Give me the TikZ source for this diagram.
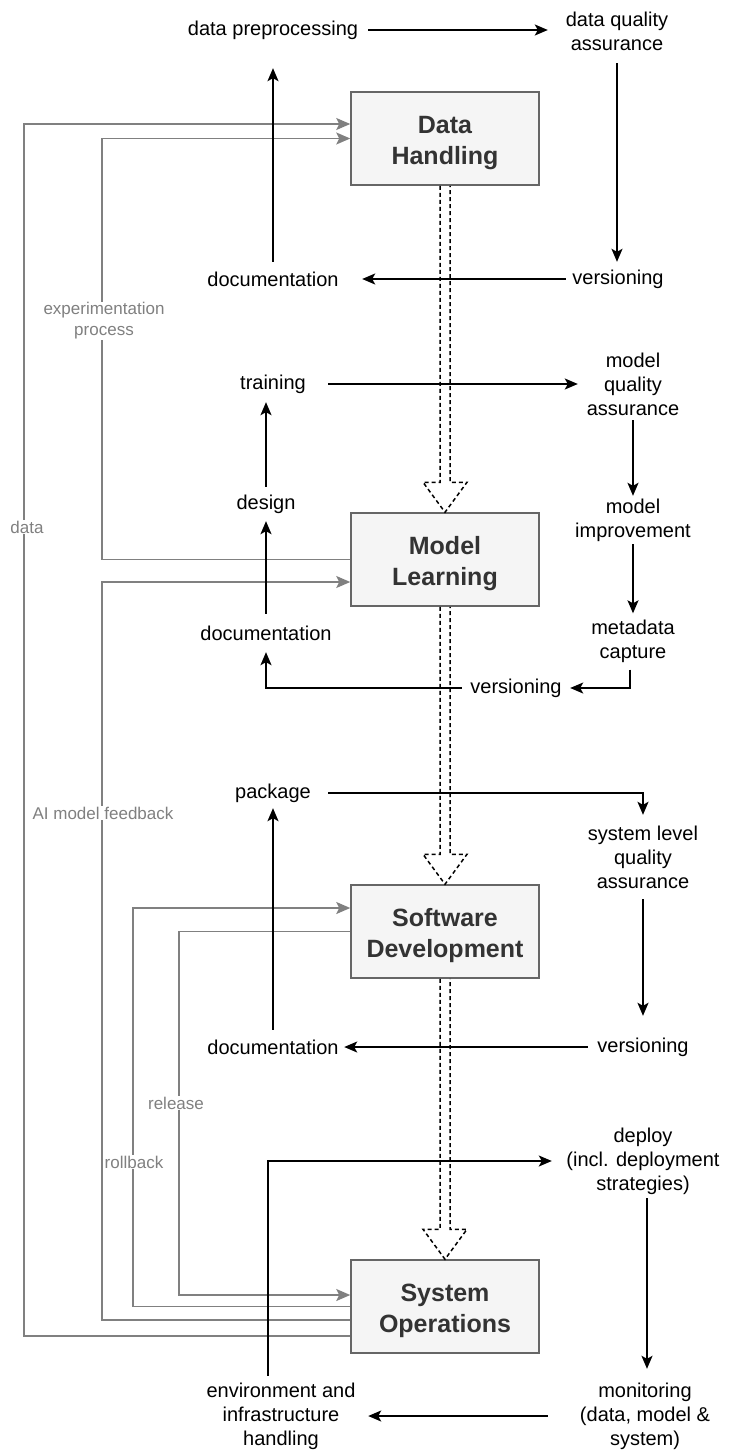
\documentclass[tikz,border=0pt]{standalone}
\usepackage{fontspec}
\setmainfont{Liberation Sans}
\usetikzlibrary{arrows.meta}

\definecolor{stageborder}{HTML}{666666}
\definecolor{stagefill}{HTML}{F5F5F5}
\definecolor{stagetext}{HTML}{333333}
\definecolor{fbgray}{HTML}{808080}

\tikzset{
  stage/.style={draw=stageborder, fill=stagefill, line width=1.5pt, minimum width=188pt,
    minimum height=93pt, inner sep=0pt, align=center, text=stagetext,
    font=\fontsize{25}{31}\selectfont\bfseries},
  task/.style={inner sep=0pt, align=center, font=\fontsize{20}{24}\selectfont},
  flow/.style={line width=1.6pt, -{Stealth[length=13pt,width=11pt,inset=3pt]}},
  fb/.style={draw=fbgray, line width=1.6pt, -{Stealth[length=14pt,width=12pt,inset=3pt]}},
  fblabel/.style={fill=white, inner sep=1pt, align=center, text=fbgray,
    font=\fontsize{17}{21}\selectfont},
  hollow/.style={line width=1.5pt, dash pattern=on 4pt off 3pt}
}
\newcommand{\toppad}{\rule{0pt}{26pt}}

\begin{document}
\begin{tikzpicture}[x=1pt,y=-1pt]
\useasboundingbox (0,0) rectangle (735,1453);

% Stages
\node[stage] (dh) at (445,138.5) {\toppad Data\\Handling};
\node[stage] (ml) at (445,559.5) {\toppad Model\\Learning};
\node[stage] (sd) at (445,931.5) {\toppad Software\\Development};
\node[stage] (so) at (445,1306.5) {\toppad System\\Operations};

% Feedback between stages
\draw[fb] ([yshift=-29.5pt]so.west) -- ++(-326,0) |- ([yshift=14.5pt]dh.west);
\draw[fb] (ml.west) -- ++(-248,0) |- (dh.west);
\draw[fb] ([yshift=-13.5pt]so.west) -- ++(-248,0) |- ([yshift=-22.5pt]ml.west);
\draw[fb] (so.west) -- ++(-217,0) |- ([yshift=23.5pt]sd.west);
\draw[fb] (sd.west) -- ++(-171,0) |- ([yshift=11.5pt]so.west);

\node[fblabel] (ldata) at (27,527) {data};
\node[fblabel] (lexp) at (104,321) {experimentation\\process};
\node[fblabel] (lai) at (103,813) {AI model feedback};
\node[fblabel] (lrel) at (176,1103) {release};
\node[fblabel] (lroll) at (134,1162) {rollback};

% Hand-over between stages
\foreach \a/\b in {dh/ml,ml/sd,sd/so}
  \draw[hollow] ([xshift=-5pt]\a.south) -- ([xshift=-5pt,yshift=30pt]\b.north)
    -- ([xshift=-22pt,yshift=30pt]\b.north) -- (\b.north)
    -- ([xshift=22pt,yshift=30pt]\b.north) -- ([xshift=5pt,yshift=30pt]\b.north)
    -- ([xshift=5pt]\a.south);

% Data handling
\node[task, minimum width=190pt, minimum height=76pt] (dprep) at (273,30) {data preprocessing};
\node[task, minimum width=138pt, minimum height=64pt] (dqa) at (617,31) {data quality\\assurance};
\node[task, minimum width=104pt, minimum height=34pt] (dver) at (618,279) {versioning};
\node[task, minimum width=178pt, minimum height=34pt] (ddoc) at (273,279) {documentation};

\draw[flow] (dprep.east) -- (dprep.east -| dqa.west);
\draw[flow] (dqa.south) -- (dqa.south |- dver.north);
\draw[flow] (dver.west) -- (ddoc.east);
\draw[flow] (ddoc.north) -- (ddoc.north |- dprep.south);

% Model learning
\node[task, minimum width=110pt, minimum height=36pt] (train) at (273,384) {training};
\node[task, minimum width=110pt, minimum height=72pt] (mqa) at (633,384) {model\\quality\\assurance};
\node[task, minimum height=48pt] (mimp) at (633,520) {model\\improvement};
\node[task, minimum height=56pt] (meta) at (633,641.5) {metadata\\capture};
\node[task, minimum width=108pt, minimum height=30pt] (mver) at (516,688) {versioning};
\node[task, minimum height=38pt] (mdoc) at (266,633) {documentation};
\node[task, minimum height=34pt] (design) at (266,504) {design};

\draw[flow] (train.east) -- (mqa.west);
\draw[flow] (mqa.south) -- (mimp.north);
\draw[flow] (mimp.south) -- (meta.north);
\draw[flow] ([xshift=-3pt]meta.south) |- (mver.east);
\draw[flow] (mver.west) -| (mdoc.south);
\draw[flow] (mdoc.north) -- (design.south);
\draw[flow] (design.north) -- (design.north |- train.south);

% Software development
\node[task, minimum width=110pt, minimum height=30pt] (pkg) at (273,793) {package};
\node[task, minimum height=84pt] (sqa) at (643,857) {system level\\quality\\assurance};
\node[task, minimum width=110pt, minimum height=62pt] (sver) at (643,1047) {versioning};
\node[task, minimum width=142pt, minimum height=34pt] (sdoc) at (273,1047) {documentation};

\draw[flow] (pkg.east) -| (sqa.north);
\draw[flow] (sqa.south) -- (sver.north);
\draw[flow] (sver.west) -- (sdoc.east);
\draw[flow] (sdoc.north) -- (sdoc.north |- pkg.south);

% System operations
\node[task, minimum width=182pt, minimum height=74pt] (deploy) at (643,1161) {deploy\\(incl. deployment\\strategies)};
\node[task, minimum width=194pt, minimum height=94pt] (mon) at (645,1416) {monitoring\\(data, model \&\\system)};
\node[task, minimum width=174pt, minimum height=80pt] (env) at (281,1416) {environment and\\infrastructure\\handling};

\draw[flow] ([xshift=4pt]deploy.south) -- ([xshift=4pt]deploy.south |- mon.north);
\draw[flow] (mon.west) -- (env.east);
\draw[flow] ([xshift=-13pt]env.north) |- (deploy.west);
\end{tikzpicture}
\end{document}
